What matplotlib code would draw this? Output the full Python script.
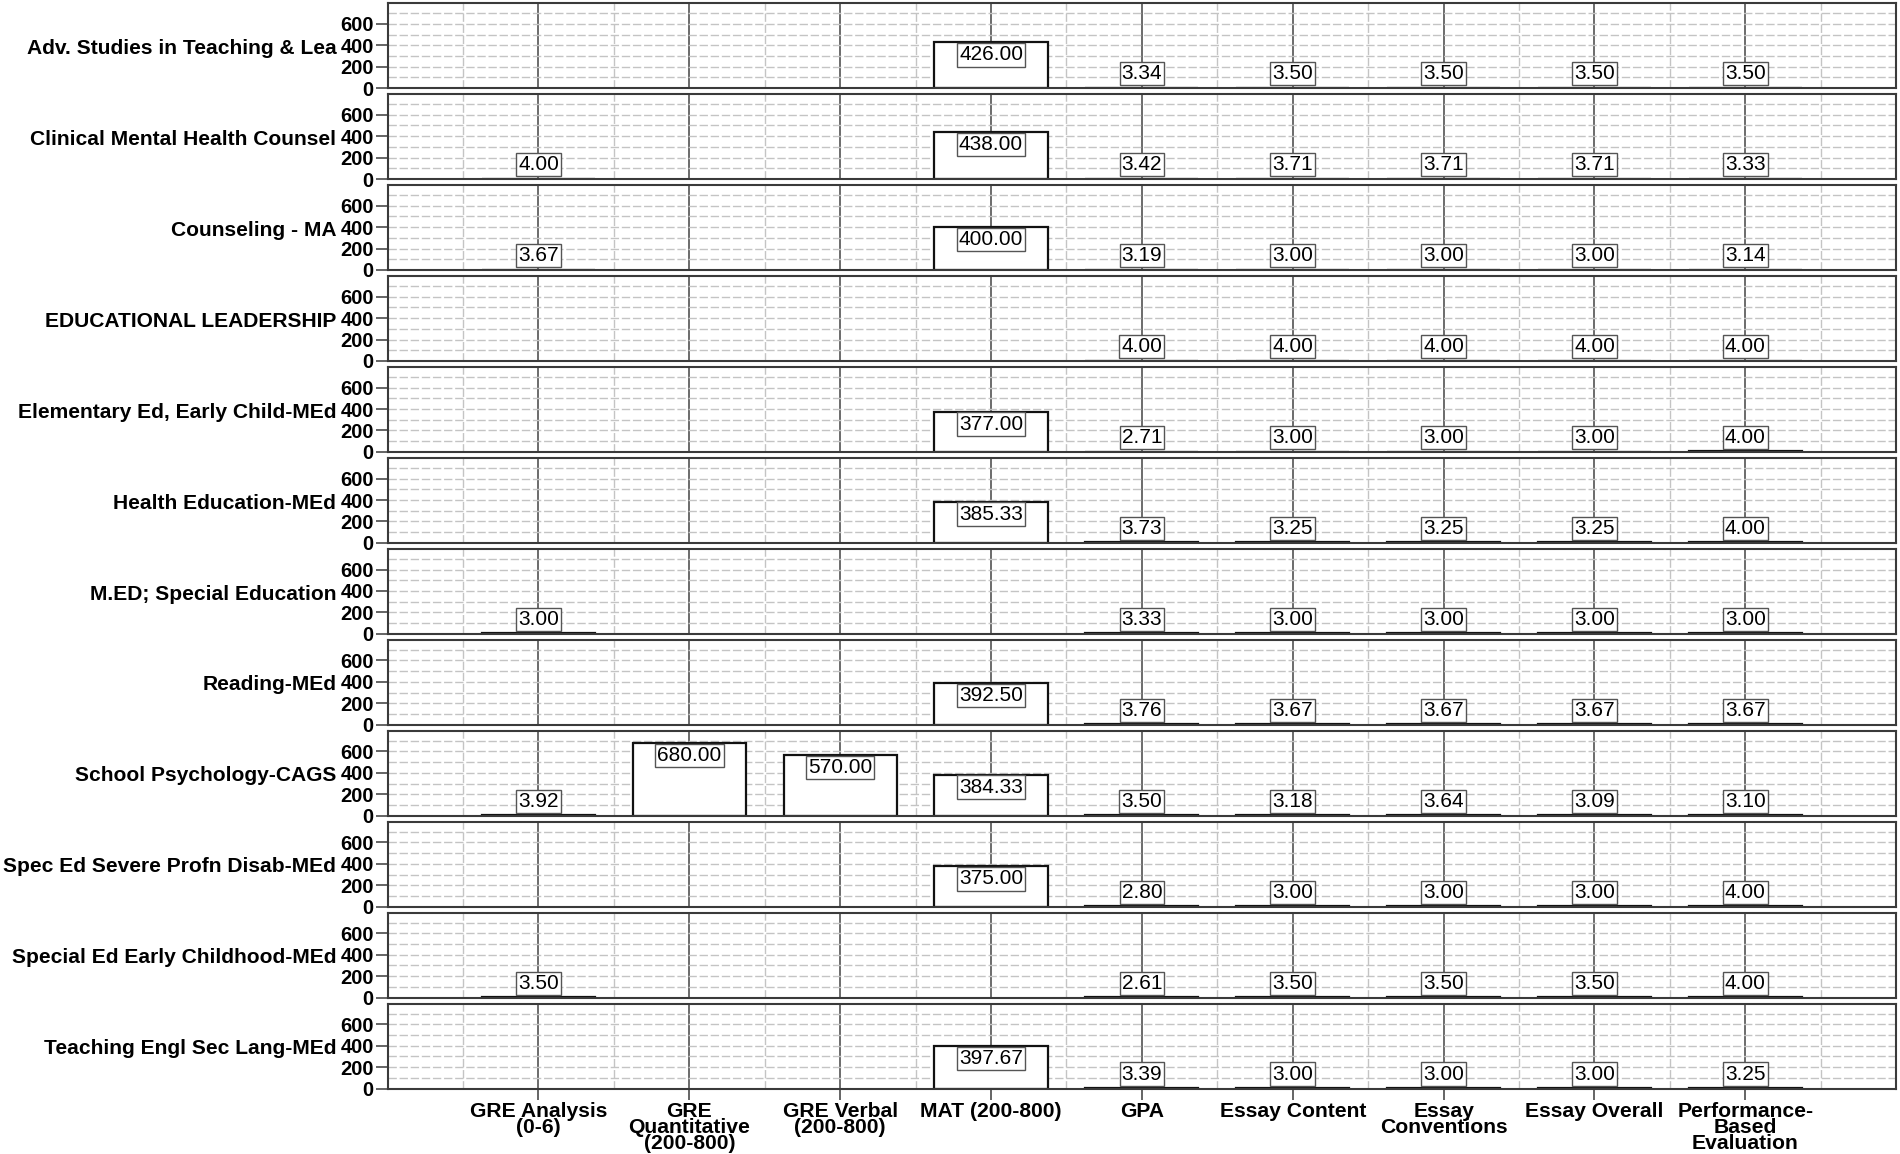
import numpy as np
import matplotlib
matplotlib.use('Agg')
import matplotlib.pyplot as plt

plt.rcParams['font.family'] = ['Liberation Sans', 'DejaVu Sans']

nan = np.nan

programs = ['Adv. Studies in Teaching & Lea', 'Clinical Mental Health Counsel', 'Counseling - MA',
            'EDUCATIONAL LEADERSHIP', 'Elementary Ed, Early Child-MEd', 'Health Education-MEd',
            'M.ED; Special Education', 'Reading-MEd', 'School Psychology-CAGS',
            'Spec Ed Severe Profn Disab-MEd', 'Special Ed Early Childhood-MEd', 'Teaching Engl Sec Lang-MEd']

measures = ['GRE Analysis\n(0-6)', 'GRE\nQuantitative\n(200-800)', 'GRE Verbal\n(200-800)', 'MAT (200-800)',
            'GPA', 'Essay Content', 'Essay\nConventions', 'Essay Overall', 'Performance-\nBased\nEvaluation']

# one list per measure, one entry per program (nan = no data)
gre_analysis = [nan, 4.00, 3.67, nan, nan, nan, 3.00, nan, 3.92, nan, 3.50, nan]
gre_quant = [nan, nan, nan, nan, nan, nan, nan, nan, 680.00, nan, nan, nan]
gre_verbal = [nan, nan, nan, nan, nan, nan, nan, nan, 570.00, nan, nan, nan]
mat = [426.00, 438.00, 400.00, nan, 377.00, 385.33, nan, 392.50, 384.33, 375.00, nan, 397.67]
gpa = [3.34, 3.42, 3.19, 4.00, 2.71, 3.73, 3.33, 3.76, 3.50, 2.80, 2.61, 3.39]
essay_content = [3.50, 3.71, 3.00, 4.00, 3.00, 3.25, 3.00, 3.67, 3.18, 3.00, 3.50, 3.00]
essay_conv = [3.50, 3.71, 3.00, 4.00, 3.00, 3.25, 3.00, 3.67, 3.64, 3.00, 3.50, 3.00]
essay_overall = [3.50, 3.71, 3.00, 4.00, 3.00, 3.25, 3.00, 3.67, 3.09, 3.00, 3.50, 3.00]
perf_eval = [3.50, 3.33, 3.14, 4.00, 4.00, 4.00, 3.00, 3.67, 3.10, 4.00, 4.00, 3.25]

table = np.array([gre_analysis, gre_quant, gre_verbal, mat, gpa,
                  essay_content, essay_conv, essay_overall, perf_eval]).T

fig, axes = plt.subplots(len(programs), 1, figsize=(19, 11.54), dpi=100, sharex=True,
                         gridspec_kw={'hspace': 0.075})
fig.subplots_adjust(left=0.204, right=0.998, top=0.997, bottom=0.0567)

x = np.arange(len(measures))
edge = '#3a3a3a'

for i, ax in enumerate(axes):
    vals = table[i]
    ax.set_xlim(-1, len(measures))
    ax.set_ylim(0, 790)
    ax.set_axisbelow(True)

    ax.set_xticks(x)
    ax.set_xticks(np.arange(-0.5, len(measures), 1), minor=True)
    ax.set_yticks([0, 200, 400, 600])
    ax.set_yticks([100, 300, 500, 700], minor=True)
    ax.grid(which='major', axis='x', color='#444444', lw=1.1, ls='-')
    ax.grid(which='minor', axis='x', color='#c4c4c4', lw=1.0, ls=(0, (6, 2)))
    ax.grid(which='both', axis='y', color='#c4c4c4', lw=1.0, ls=(0, (6, 2)))

    ax.tick_params(axis='y', which='major', length=9, width=1.1, color=edge, labelsize=14.5, pad=1)
    ax.tick_params(axis='y', which='minor', length=0)
    ax.tick_params(axis='x', which='both', length=0)
    for lab in ax.get_yticklabels():
        lab.set_fontweight('bold')
    for s in ax.spines.values():
        s.set_color(edge)
        s.set_linewidth(1.5)

    ax.bar(x, vals, width=0.75, facecolor='white', edgecolor='#111111', lw=1.6, zorder=2)

    for xi, v in zip(x, vals):
        if np.isnan(v):
            continue
        if v > 250:
            ax.annotate(f'{v:.2f}', (xi, v), xytext=(0, -3), textcoords='offset pixels',
                        ha='center', va='top', fontsize=15, zorder=4,
                        bbox=dict(boxstyle='square,pad=0.1', fc='white', ec='#555555', lw=1))
        else:
            ax.annotate(f'{v:.2f}', (xi, 0), xytext=(0, 5), textcoords='offset pixels',
                        ha='center', va='bottom', fontsize=15, zorder=4,
                        bbox=dict(boxstyle='square,pad=0.1', fc='white', ec='#555555', lw=1))

    ax.text(-0.034, 0.47, programs[i], transform=ax.transAxes, ha='right', va='center',
            fontsize=15.1, fontweight='bold')

bottom = axes[-1]
bottom.set_xticklabels(measures, fontsize=15.2, fontweight='bold', linespacing=0.78, va='top')
bottom.tick_params(axis='x', which='major', length=8, width=1.1, color=edge, pad=2)

fig.savefig('out.png', dpi=100)
